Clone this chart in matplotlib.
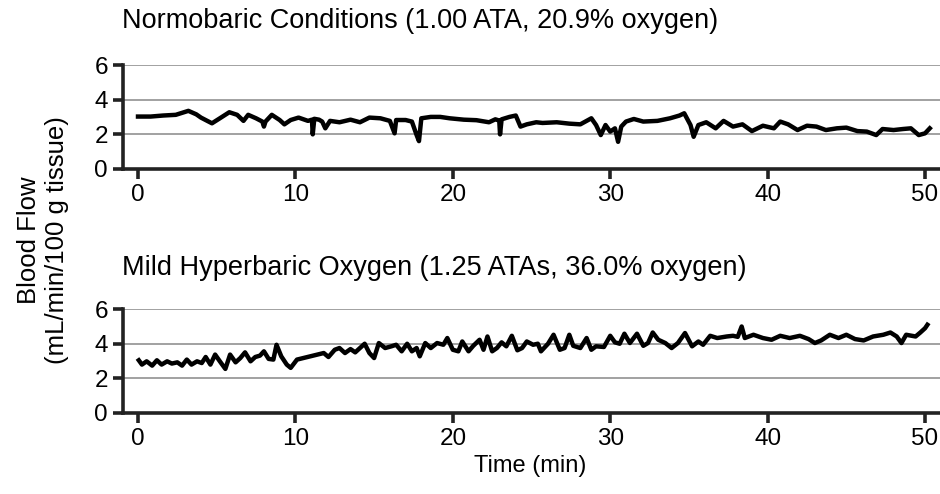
import matplotlib
matplotlib.use("Agg")
import matplotlib.pyplot as plt

plt.rcParams['font.family'] = ['Liberation Sans', 'DejaVu Sans']

# Normobaric trace (min, mL/min/100 g tissue)
normo_t = [0.0, 0.8, 1.6, 2.4, 3.2, 3.7, 4.0, 4.4, 4.7, 5.2, 5.8, 6.3, 6.7, 7.0,
           7.5, 7.9, 8.0, 8.1, 8.5, 9.0, 9.3, 9.7, 10.2, 10.8, 11.05, 11.1, 11.2,
           11.5, 11.7, 11.9, 12.2, 12.8, 13.5, 14.1, 14.7, 15.4, 16.0, 16.3, 16.4,
           17.0, 17.4, 17.7, 17.85, 18.0, 18.6, 19.2, 19.8, 20.7, 21.5, 22.3,
           22.7, 22.95, 23.0, 23.1, 23.6, 24.0, 24.3, 24.7, 25.3, 25.7, 26.6,
           27.4, 28.1, 28.8, 29.1, 29.4, 29.7, 30.0, 30.3, 30.5, 30.7, 31.0,
           31.5, 32.1, 33.0, 33.8, 34.4, 34.7, 35.1, 35.3, 35.6, 36.1, 36.7,
           37.2, 37.8, 38.4, 39.0, 39.7, 40.4, 40.8, 41.3, 41.9, 42.5, 43.1,
           43.7, 44.4, 45.0, 45.7, 46.3, 46.9, 47.3, 48.0, 48.6, 49.1, 49.6,
           50.0, 50.3]
normo_v = [3.03, 3.03, 3.09, 3.13, 3.36, 3.16, 2.97, 2.78, 2.64, 2.93, 3.28, 3.13,
           2.78, 3.13, 2.93, 2.74, 2.45, 2.74, 3.13, 2.83, 2.58, 2.83, 2.97, 2.78,
           2.85, 2.00, 2.90, 2.85, 2.74, 2.35, 2.78, 2.70, 2.85, 2.70, 2.97, 2.93,
           2.78, 2.06, 2.83, 2.83, 2.74, 1.96, 1.61, 2.93, 3.01, 3.01, 2.93, 2.85,
           2.82, 2.70, 2.87, 2.80, 2.00, 2.87, 3.01, 3.09, 2.45, 2.58, 2.70, 2.66,
           2.70, 2.62, 2.58, 2.93, 2.54, 1.96, 2.54, 2.16, 2.35, 1.57, 2.45, 2.74,
           2.89, 2.74, 2.78, 2.93, 3.09, 3.22, 2.54, 1.86, 2.54, 2.70, 2.35, 2.78,
           2.45, 2.58, 2.19, 2.50, 2.35, 2.74, 2.58, 2.25, 2.50, 2.45, 2.25, 2.35,
           2.39, 2.19, 2.16, 1.96, 2.31, 2.25, 2.31, 2.35, 1.96, 2.06, 2.35]

# Mild hyperbaric oxygen trace
hbo_t = [0.05, 0.25, 0.55, 0.9, 1.2, 1.5, 1.85, 2.15, 2.5, 2.8, 3.1, 3.4, 3.75,
         4.05, 4.3, 4.6, 4.9, 5.2, 5.55, 5.85, 6.2, 6.5, 6.8, 7.15, 7.45, 7.75,
         8.0, 8.3, 8.6, 8.8, 9.1, 9.45, 9.7, 10.1, 10.5, 10.95, 11.4, 11.8, 12.1,
         12.5, 12.8, 13.15, 13.5, 13.8, 14.1, 14.4, 14.7, 15.0, 15.3, 15.7, 16.1,
         16.4, 16.75, 17.1, 17.4, 17.7, 17.9, 18.25, 18.6, 19.0, 19.4, 19.65,
         20.0, 20.35, 20.6, 21.0, 21.3, 21.7, 21.95, 22.2, 22.5, 22.8, 23.1,
         23.4, 23.75, 24.1, 24.4, 24.7, 25.1, 25.4, 25.6, 26.05, 26.4, 26.8,
         27.1, 27.4, 27.65, 28.1, 28.5, 28.8, 29.1, 29.6, 30.0, 30.3, 30.6,
         30.9, 31.25, 31.7, 32.1, 32.4, 32.7, 33.05, 33.5, 33.9, 34.3, 34.75,
         35.2, 35.6, 35.9, 36.35, 36.8, 37.4, 37.8, 38.1, 38.35, 38.55, 39.1,
         39.7, 40.25, 40.8, 41.4, 42.05, 42.6, 43.0, 43.4, 43.95, 44.5, 45.0,
         45.55, 46.1, 46.7, 47.35, 47.8, 48.2, 48.5, 48.8, 49.4, 49.7, 50.0,
         50.15]
hbo_v = [3.04, 2.79, 2.98, 2.73, 3.04, 2.79, 2.98, 2.85, 2.92, 2.73, 3.08, 2.79,
         2.98, 2.88, 3.23, 2.79, 3.37, 2.98, 2.54, 3.37, 2.92, 3.17, 3.50, 2.98,
         3.23, 3.31, 3.56, 3.12, 3.08, 3.94, 3.27, 2.79, 2.60, 3.08, 3.17, 3.27,
         3.37, 3.46, 3.23, 3.65, 3.75, 3.46, 3.69, 3.50, 3.75, 4.00, 3.46, 3.17,
         4.04, 3.75, 3.85, 3.94, 3.56, 4.00, 3.56, 3.75, 3.27, 4.04, 3.75, 4.04,
         3.94, 4.33, 3.65, 3.56, 4.13, 3.56, 3.88, 4.23, 3.65, 4.42, 3.56, 3.75,
         4.08, 3.85, 4.46, 3.62, 3.75, 4.13, 3.94, 4.00, 3.56, 4.00, 4.52, 3.65,
         3.75, 4.52, 3.88, 3.75, 4.33, 3.65, 3.85, 3.81, 4.46, 4.08, 4.00, 4.58,
         4.04, 4.58, 3.88, 4.04, 4.65, 4.23, 4.04, 3.75, 4.04, 4.62, 3.85, 4.13,
         3.94, 4.46, 4.33, 4.42, 4.46, 4.40, 5.00, 4.33, 4.52, 4.33, 4.23, 4.46,
         4.33, 4.46, 4.27, 4.04, 4.19, 4.52, 4.33, 4.52, 4.27, 4.19, 4.42, 4.52,
         4.65, 4.42, 4.04, 4.52, 4.42, 4.65, 4.90, 5.10]

yticks = [0, 2, 4, 6]
xticks = [0, 10, 20, 30, 40, 50]

fig = plt.figure(figsize=(9.4, 4.94), dpi=100)
ax1 = fig.add_axes([0.1309, 0.658, 0.8691, 0.210])
ax2 = fig.add_axes([0.1309, 0.1646, 0.8691, 0.2094])

for ax, t, v in [(ax1, normo_t, normo_v), (ax2, hbo_t, hbo_v)]:
    ax.plot(t, v, color='black', lw=3.2, solid_joinstyle='round', zorder=3)
    ax.set_xlim(-0.95, 50.95)
    ax.set_ylim(0, 6)
    ax.set_yticks(yticks)
    ax.set_xticks(xticks)
    ax.yaxis.grid(True, color='#9a9a9a', lw=1.3)
    ax.set_axisbelow(True)
    for s in ['top', 'right']:
        ax.spines[s].set_visible(False)
    for s in ['left', 'bottom']:
        ax.spines[s].set_linewidth(2.6)
        ax.spines[s].set_color('#222222')
    ax.tick_params(axis='both', direction='out', length=7, width=2.6,
                   color='#222222', labelsize=17.5, pad=4)

fig.text(0.1298, 0.958, 'Normobaric Conditions (1.00 ATA, 20.9% oxygen)',
         fontsize=19.5, ha='left', va='center')
fig.text(0.1298, 0.458, 'Mild Hyperbaric Oxygen (1.25 ATAs, 36.0% oxygen)',
         fontsize=19.5, ha='left', va='center')
fig.text(0.046, 0.514, 'Blood Flow\n(mL/min/100 g tissue)', fontsize=18.5,
         rotation=90, ha='center', va='center', multialignment='center',
         linespacing=1.2)
fig.text(0.5638, 0.057, 'Time (min)', fontsize=17, ha='center', va='center')

fig.savefig('out.png', dpi=100)
